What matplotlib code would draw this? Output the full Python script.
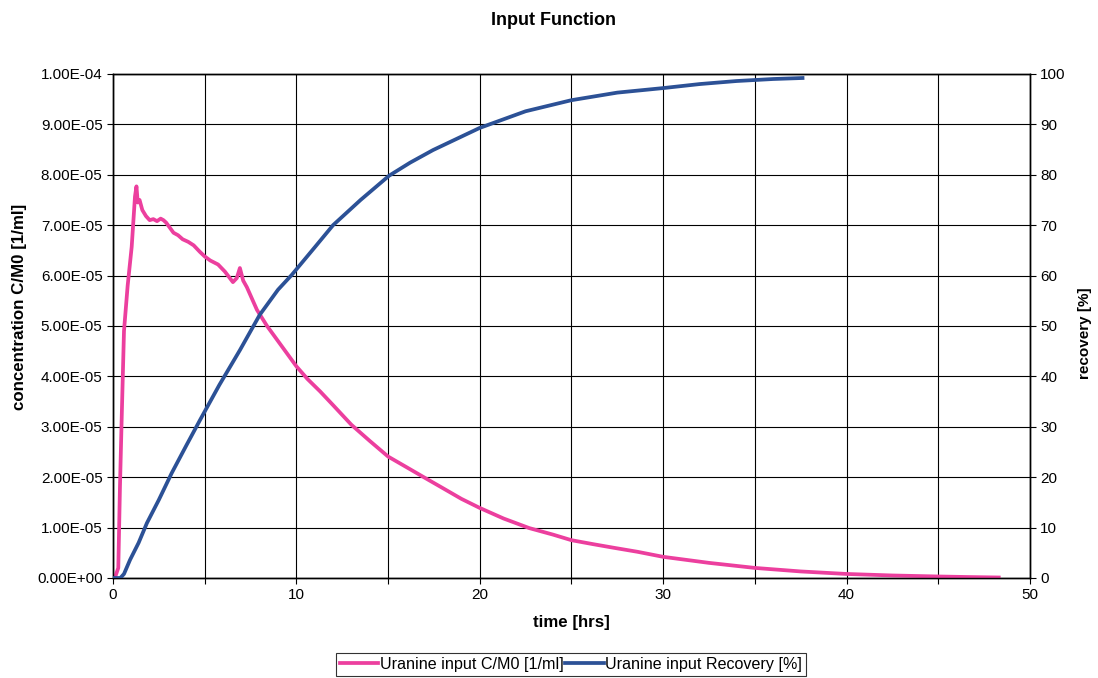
import matplotlib
matplotlib.use("Agg")
import matplotlib.pyplot as plt
from matplotlib.ticker import MultipleLocator, FuncFormatter

plt.rcParams['font.family'] = ['Liberation Sans', 'DejaVu Sans']

# uranine concentration C/M0 (in 1e-5 1/ml) vs time [hrs]
t_conc = [0.1, 0.29, 0.38, 0.47, 0.6, 0.8, 1.02, 1.2, 1.28, 1.35, 1.45, 1.6, 1.8, 2.0,
          2.2, 2.4, 2.6, 2.75, 2.9, 3.1, 3.3, 3.55, 3.8, 4.1, 4.4, 4.74, 5.0, 5.3, 5.73,
          6.1, 6.54, 6.75, 6.92, 7.1, 7.3, 7.85, 8.4, 9.1, 10.0, 10.6, 11.3, 12.0, 13.0,
          14.0, 15.0, 16.0, 16.9, 18.0, 19.0, 20.0, 21.3, 22.7, 24.0, 25.0, 26.2, 27.3,
          28.6, 30.0, 32.5, 35.0, 37.5, 40.0, 42.5, 45.0, 46.5, 48.3]
conc = [0, 0.2, 1.8, 3.1, 4.9, 5.8, 6.57, 7.57, 7.77, 7.45, 7.5, 7.3, 7.18, 7.1,
        7.12, 7.08, 7.13, 7.1, 7.05, 6.95, 6.85, 6.8, 6.72, 6.67, 6.6, 6.47, 6.38, 6.3, 6.22,
        6.08, 5.87, 5.95, 6.15, 5.9, 5.77, 5.32, 5.0, 4.65, 4.2, 3.95, 3.7, 3.43, 3.04,
        2.72, 2.41, 2.2, 2.01, 1.78, 1.57, 1.39, 1.18, 0.99, 0.86, 0.75, 0.67, 0.6,
        0.52, 0.42, 0.3, 0.2, 0.13, 0.08, 0.05, 0.03, 0.02, 0.01]

# recovery [%] vs time [hrs]
t_rec = [0.0, 0.4, 0.6, 0.93, 1.4, 1.85, 2.5, 3.2, 4.0, 4.74, 5.8, 6.92, 8.0, 9.0, 9.74,
         11.0, 12.0, 13.5, 15.05, 16.2, 17.45, 20.0, 22.5, 25.0, 27.5, 30.0, 32.0, 34.0,
         36.0, 37.6]
rec = [0, 0, 0.8, 3.6, 7.0, 10.9, 15.5, 20.8, 26.3, 31.3, 38.3, 45.2, 52.2, 57.2, 60.1,
       65.6, 70.0, 75.0, 79.8, 82.4, 84.9, 89.3, 92.6, 94.8, 96.3, 97.2, 98.0, 98.6,
       99.0, 99.2]

pink = '#ec3f9e'
blue = '#2c5196'

fig = plt.figure(figsize=(10.98, 6.78), dpi=100)
ax = fig.add_axes([0.1029, 0.1475, 0.8351, 0.7434])
ax2 = ax.twinx()

l1, = ax.plot(t_conc, [c * 1e-5 for c in conc], color=pink, lw=2.7,
              label='Uranine input C/M0 [1/ml]', zorder=3)
l2, = ax2.plot(t_rec, rec, color=blue, lw=2.7, label='Uranine input Recovery [%]', zorder=3)

ax.set_xlim(0, 50)
ax.set_ylim(0, 1e-4)
ax2.set_ylim(0, 100)
ax.xaxis.set_major_locator(MultipleLocator(10))
ax.xaxis.set_minor_locator(MultipleLocator(5))
ax.yaxis.set_major_locator(MultipleLocator(1e-5))
ax2.yaxis.set_major_locator(MultipleLocator(10))
ax.yaxis.set_major_formatter(FuncFormatter(lambda v, p: f"{v:.2E}"))

ax.grid(True, which='major', color='black', lw=0.8)
ax.grid(True, which='minor', axis='x', color='black', lw=0.8)
ax.set_axisbelow(True)

for a in (ax, ax2):
    a.tick_params(which='both', direction='out', length=4, width=0.8, labelsize=11, colors='black')
    for s in a.spines.values():
        s.set_color('black')
        s.set_linewidth(1.0)

fig.text(0.504, 0.970, 'Input Function', fontsize=13, fontweight='bold', ha='center', va='center')
ax.set_xlabel('time [hrs]', fontsize=12.2, fontweight='bold', labelpad=9)
ax.set_ylabel('concentration C/M0 [1/ml]', fontsize=12.2, fontweight='bold')
ax.yaxis.set_label_coords(-0.094, 0.538)
ax2.set_ylabel('recovery [%]', fontsize=11, fontweight='bold')
ax2.yaxis.set_label_coords(1.052, 0.485)

leg = fig.legend(handles=[l1, l2], loc='center', bbox_to_anchor=(0.52, 0.0206), ncol=2,
                 fontsize=11.6, frameon=True, fancybox=False, edgecolor='black',
                 handlelength=2.4, handletextpad=0.1, columnspacing=0.1,
                 borderpad=0.25, borderaxespad=0)
leg.get_frame().set_linewidth(0.8)

fig.savefig('out.png', dpi=100)
